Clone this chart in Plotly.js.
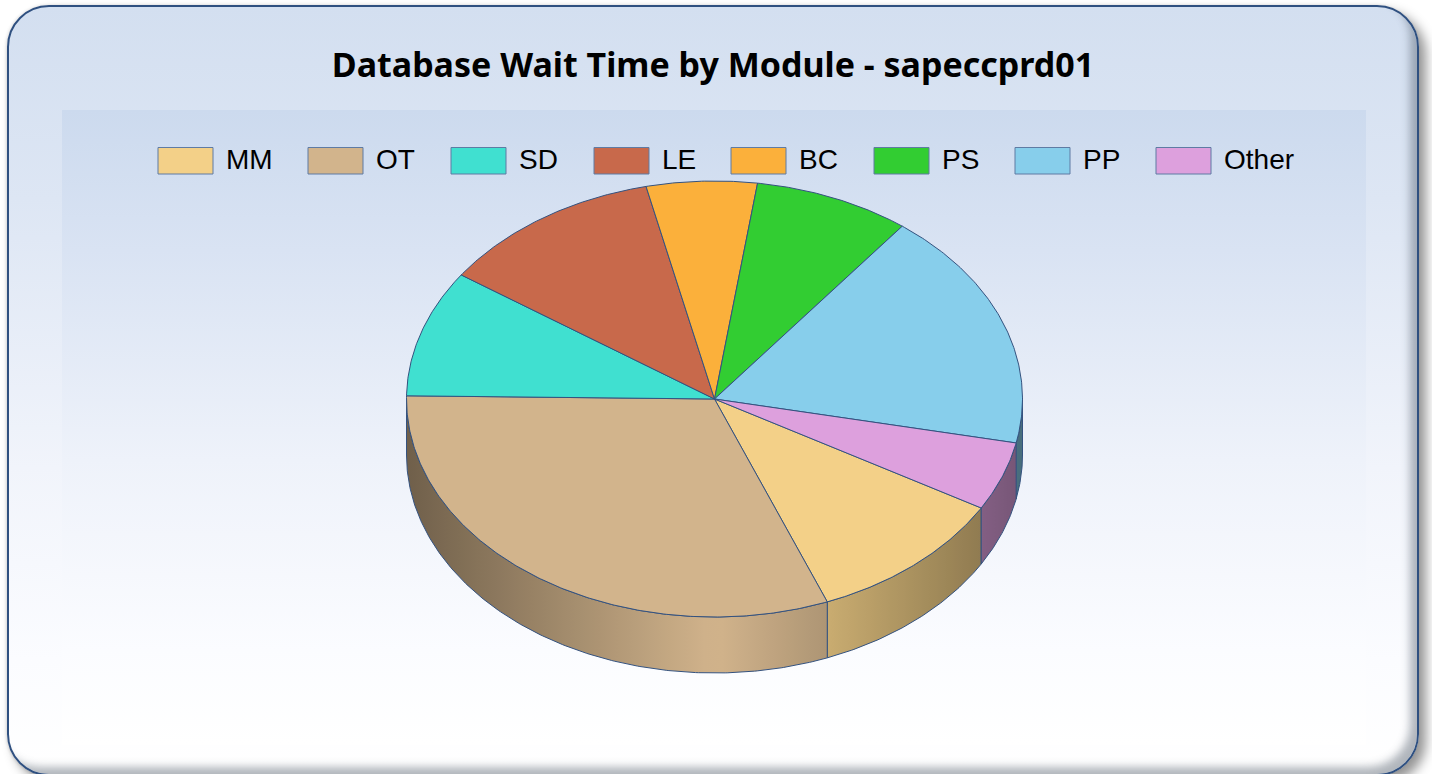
<!DOCTYPE html>
<html>
<head>
<meta charset="utf-8">
<script src="https://cdn.plot.ly/plotly-3.0.1.min.js"></script>
<style>
html,body{margin:0;padding:0;background:#fff;width:1432px;height:774px;overflow:hidden}
#panel{position:absolute;left:7px;top:5px;width:1412px;height:771px;box-sizing:border-box;border:2px solid #2f5080;border-radius:42px;
 background:linear-gradient(#d3dff0 0%,#dde6f4 25%,#f1f4fb 60%,#fbfcff 85%,#ffffff 100%);
 box-shadow:7px 7px 12px rgba(0,0,0,.42),-1px 0 3px rgba(0,0,0,.12),inset -10px -10px 9px -3px rgba(70,80,95,.42)}
#inner{position:absolute;left:62px;top:110px;width:1304px;height:635px;background:linear-gradient(#ccdaee 0%,#d9e3f3 22%,#eef2fa 55%,#fbfcff 85%,#ffffff 100%)}
#chart{position:absolute;left:0;top:0;width:1432px;height:774px}
</style>
</head>
<body>
<div id="panel"></div>
<div id="inner"></div>
<div id="chart"></div>
<script>
// Data
const modules = ['MM','OT','SD','LE','BC','PS','PP','Other'];
const shares  = [10.7,31.2,9.4,11.8,5.8,8.2,17.8,5.1];
const colors  = ['#F3D088','#D2B48C','#40E0D0','#C8694B','#FBB03B','#32CD32','#87CEEB','#DDA0DD'];
const titleText = 'Database Wait Time by Module - sapeccprd01';

// Pie geometry, in the units of the axes (which map 1:1 to the page)
const cx=714.5, cy=399, rx=308, ry=218, depth=56, firstAngle=120;
const edge='#34527f';
const total = shares.reduce((a,b)=>a+b,0);

function pt(deg,dy){const t=deg*Math.PI/180;return [cx+rx*Math.sin(t),cy-ry*Math.cos(t)+(dy||0)];}
function arc(a0,a1,dy){const n=Math.max(2,Math.ceil(Math.abs(a1-a0)*2));const o=[];for(let i=0;i<=n;i++)o.push(pt(a0+(a1-a0)*i/n,dy));return o;}
function hex2(c){return [1,3,5].map(i=>parseInt(c.substr(i,2),16));}
function shade(c,x){const k=1-0.47*Math.abs(x-cx)/rx;return 'rgb('+hex2(c).map(v=>Math.round(v*k)).join(',')+')';}

const walls=[],tops=[];
let a=firstAngle;
modules.forEach((m,i)=>{
  const sweep=shares[i]/total*360, a0=a, a1=a+sweep; a=a1;
  const label=m+': '+shares[i]+'%';
  // the side wall shows only on the near half of the rim
  [[Math.max(a0,90),Math.min(a1,270)],[Math.max(a0-360,90),Math.min(a1-360,270)]].forEach(r=>{
    if(r[1]<=r[0])return;
    const poly=arc(r[0],r[1],0).concat(arc(r[1],r[0],depth));
    poly.push(poly[0]);
    const xs=poly.map(p=>p[0]),ys=poly.map(p=>p[1]);
    const lo=Math.min(...xs),hi=Math.max(...xs);
    const stops=[];
    for(let s=0;s<=24;s++)stops.push([s/24,shade(colors[i],lo+(hi-lo)*s/24)]);
    walls.push({type:'scatter',mode:'lines',x:xs,y:ys,fill:'toself',fillgradient:{type:'horizontal',colorscale:stops},
      line:{color:edge,width:1},showlegend:false,hoverinfo:'text',text:label,name:m});
  });
  const poly=[[cx,cy]].concat(arc(a0,a1,0));poly.push([cx,cy]);
  tops.push({type:'scatter',mode:'lines',x:poly.map(p=>p[0]),y:poly.map(p=>p[1]),fill:'toself',fillcolor:colors[i],
    line:{color:edge,width:1},showlegend:false,hoverinfo:'text',text:label,name:m});
});

// Legend
const swatchLeft=[158,308,451,594,731,874,1015,1156];
const shapes=modules.map((m,i)=>({type:'rect',xref:'x',yref:'y',x0:swatchLeft[i],x1:swatchLeft[i]+55,y0:147.5,y1:174,
  fillcolor:colors[i],line:{color:'#5f7ba3',width:1}}));
const annotations=modules.map((m,i)=>({xref:'x',yref:'y',x:swatchLeft[i]+66,y:159.7,text:m,showarrow:false,xanchor:'left',yanchor:'middle',
  font:{family:'"Liberation Sans",Arial,sans-serif',size:28,color:'#000'}}));

Plotly.newPlot('chart',walls.concat(tops),{
  width:1432,height:774,margin:{l:0,r:0,t:0,b:0},
  paper_bgcolor:'rgba(0,0,0,0)',plot_bgcolor:'rgba(0,0,0,0)',
  title:{text:'<b>'+titleText+'</b>',x:713/1432,xanchor:'center',y:1-65/774,yanchor:'middle',
    font:{family:'"Noto Sans",sans-serif',size:34,color:'#000'}},
  xaxis:{range:[0,1432],visible:false,fixedrange:true},
  yaxis:{range:[774,0],visible:false,fixedrange:true},
  shapes:shapes,annotations:annotations,showlegend:false
},{displayModeBar:false,staticPlot:false});
</script>
</body>
</html>
